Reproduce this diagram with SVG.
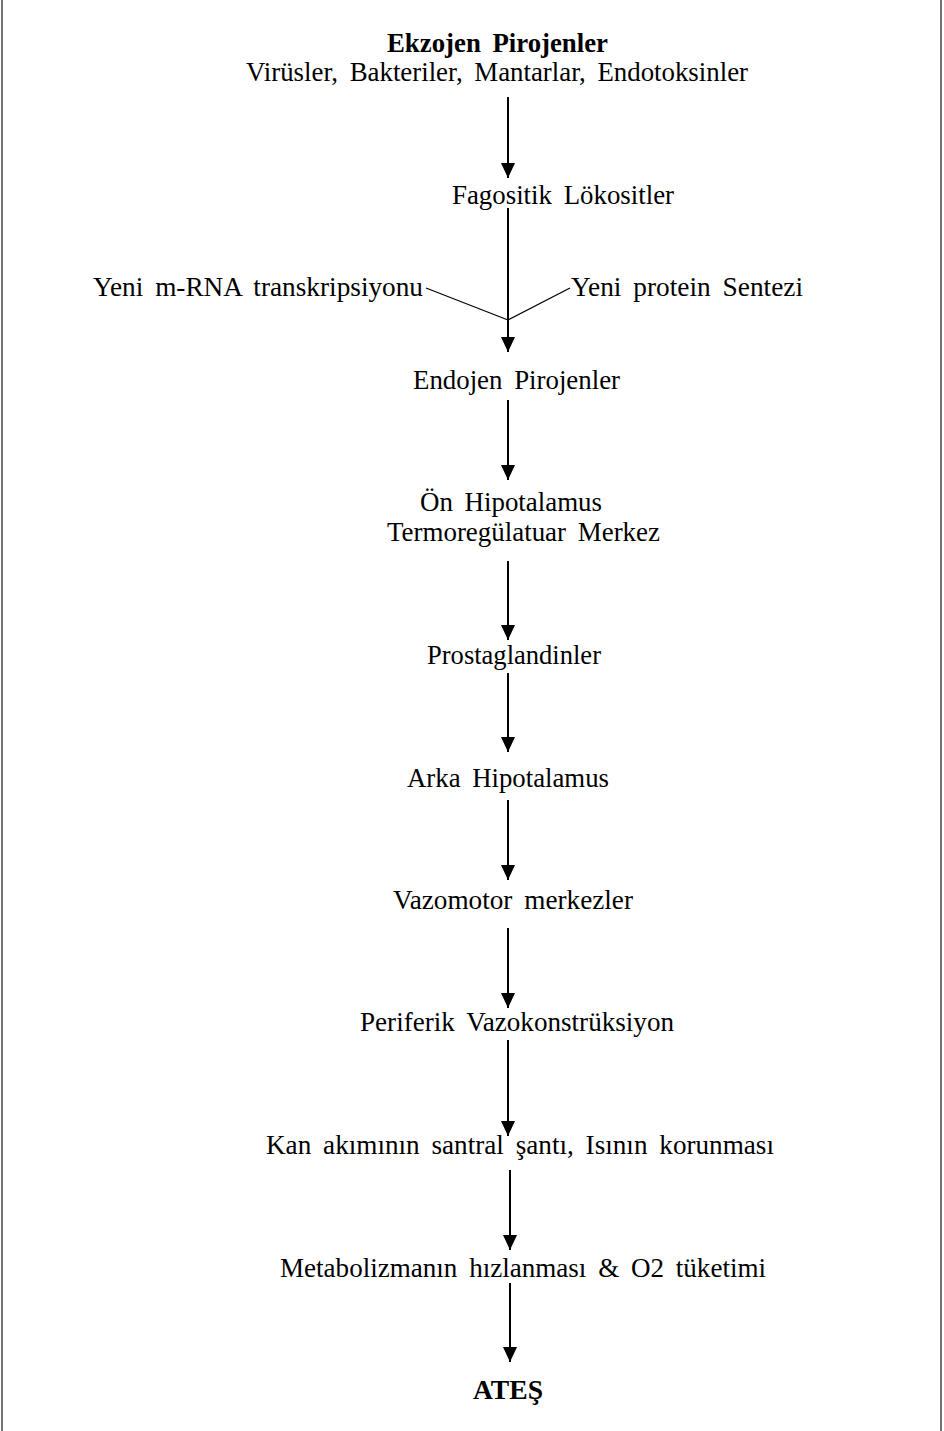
<svg xmlns="http://www.w3.org/2000/svg" width="944" height="1431" viewBox="0 0 944 1431">
<style>
text{font-family:"Liberation Serif","Times New Roman",serif;font-size:27px;fill:#000;word-spacing:5px}
.b{font-weight:bold}
.c line{stroke:#000;stroke-width:2}
.c .thin{stroke-width:1.3}
</style>
<defs>
<marker id="ah" markerUnits="userSpaceOnUse" markerWidth="15" markerHeight="14" refX="15" refY="7" orient="auto" viewBox="0 0 15 14">
<path d="M0,0 L15,7 L0,14 Z" fill="#000"/>
</marker>
</defs>
<rect width="944" height="1431" fill="#fff"/>
<line x1="2" y1="0" x2="2" y2="1431" stroke="#444" stroke-width="1.5"/>
<line x1="941" y1="0" x2="941" y2="1431" stroke="#444" stroke-width="1.5"/>
<g class="c" id="connectors">
<line x1="508" y1="97" x2="508" y2="178" marker-end="url(#ah)"/>
<line x1="508" y1="208" x2="508" y2="352" marker-end="url(#ah)"/>
<line class="thin" x1="426" y1="288" x2="508" y2="320"/>
<line class="thin" x1="570" y1="288" x2="508" y2="320"/>
<line x1="508" y1="400" x2="508" y2="480" marker-end="url(#ah)"/>
<line x1="508" y1="561" x2="508" y2="640" marker-end="url(#ah)"/>
<line x1="508" y1="673" x2="508" y2="752" marker-end="url(#ah)"/>
<line x1="508" y1="800" x2="508" y2="880" marker-end="url(#ah)"/>
<line x1="508" y1="928" x2="508" y2="1008" marker-end="url(#ah)"/>
<line x1="508" y1="1040" x2="508" y2="1136" marker-end="url(#ah)"/>
<line x1="510" y1="1170" x2="510" y2="1250" marker-end="url(#ah)"/>
<line x1="510" y1="1283" x2="510" y2="1362" marker-end="url(#ah)"/>
</g>
<g id="ekzojen">
<text class="b" x="387" y="52" textLength="221" lengthAdjust="spacingAndGlyphs">Ekzojen Pirojenler</text>
<text x="246" y="81" textLength="502" lengthAdjust="spacingAndGlyphs">Virüsler, Bakteriler, Mantarlar, Endotoksinler</text>
</g>
<g id="fagositik"><text x="452" y="204" textLength="222" lengthAdjust="spacingAndGlyphs">Fagositik Lökositler</text></g>
<g id="mrna"><text x="93" y="296" textLength="330" lengthAdjust="spacingAndGlyphs">Yeni m-RNA transkripsiyonu</text></g>
<g id="protein"><text x="571" y="296" textLength="232" lengthAdjust="spacingAndGlyphs">Yeni protein Sentezi</text></g>
<g id="endojen"><text x="413" y="389" textLength="207" lengthAdjust="spacingAndGlyphs">Endojen Pirojenler</text></g>
<g id="onhipotalamus">
<text x="420" y="511" textLength="182" lengthAdjust="spacingAndGlyphs">Ön Hipotalamus</text>
<text x="387" y="541" textLength="273" lengthAdjust="spacingAndGlyphs">Termoregülatuar Merkez</text>
</g>
<g id="prostaglandinler"><text x="427" y="664" textLength="174" lengthAdjust="spacingAndGlyphs">Prostaglandinler</text></g>
<g id="arkahipotalamus"><text x="407" y="787" textLength="202" lengthAdjust="spacingAndGlyphs">Arka Hipotalamus</text></g>
<g id="vazomotor"><text x="393" y="909" textLength="240" lengthAdjust="spacingAndGlyphs">Vazomotor merkezler</text></g>
<g id="periferik"><text x="360" y="1031" textLength="314" lengthAdjust="spacingAndGlyphs">Periferik Vazokonstrüksiyon</text></g>
<g id="kan"><text x="266" y="1154" textLength="508" lengthAdjust="spacingAndGlyphs">Kan akımının santral şantı, Isının korunması</text></g>
<g id="metabolizma"><text x="280" y="1277" textLength="486" lengthAdjust="spacingAndGlyphs">Metabolizmanın hızlanması &amp; O2 tüketimi</text></g>
<g id="ates"><text class="b" x="473" y="1399" textLength="70" lengthAdjust="spacingAndGlyphs">ATEŞ</text></g>
</svg>
